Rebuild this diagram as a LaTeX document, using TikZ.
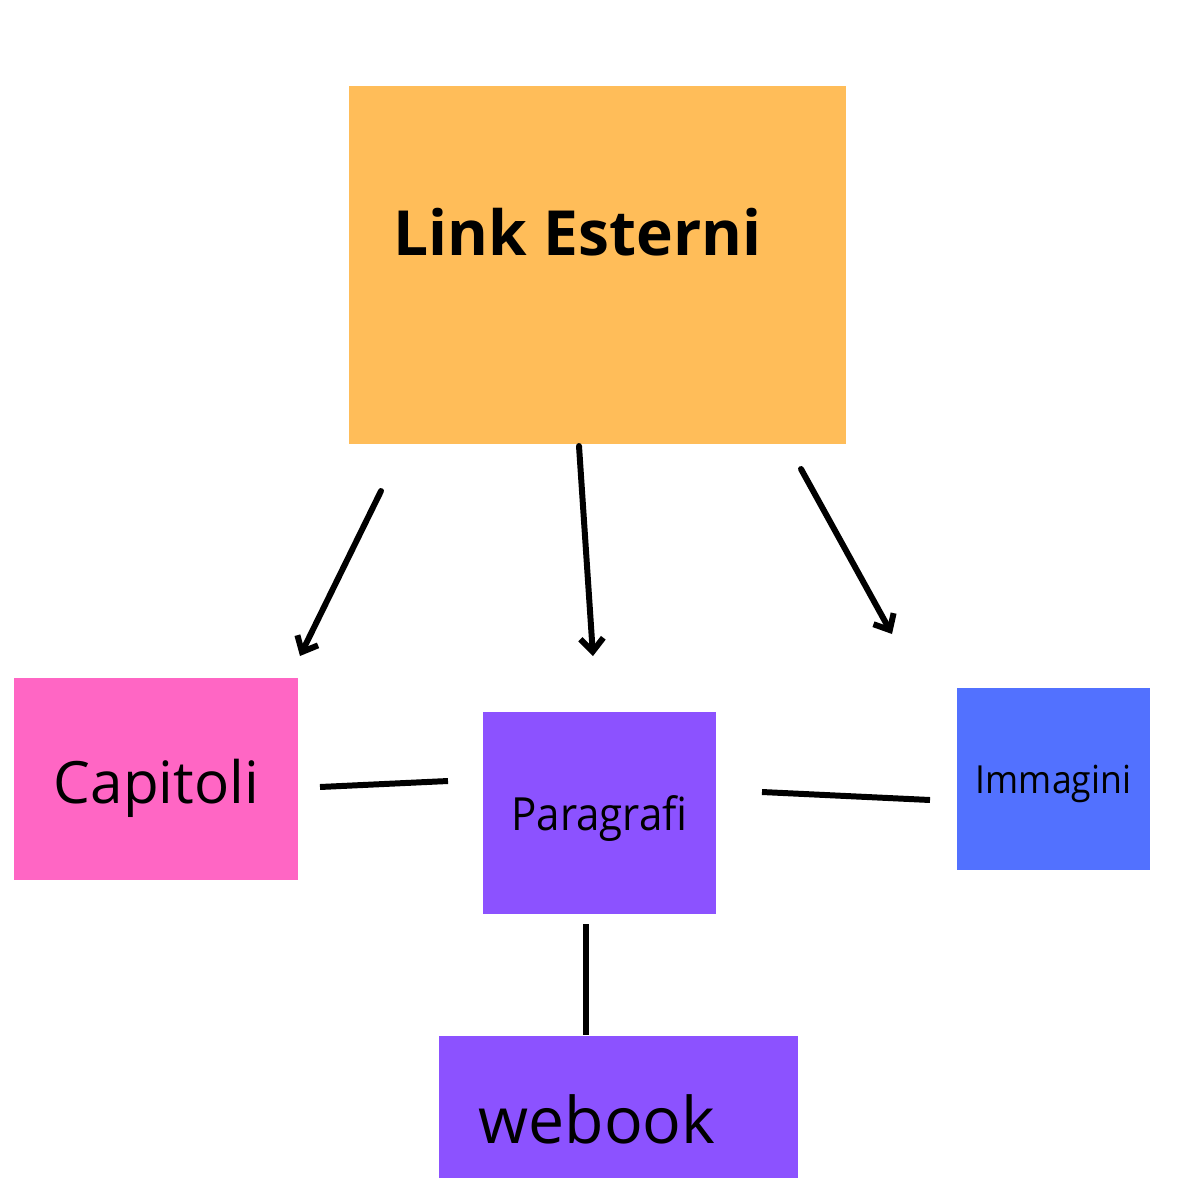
\documentclass[tikz,border=0pt]{standalone}
\usepackage{fontspec}
\setmainfont{Open Sans}
\newfontfamily\narrowfont[FakeStretch=0.92]{Open Sans}
\usetikzlibrary{arrows.meta}
\definecolor{linkorange}{HTML}{FFBD59}
\definecolor{capipink}{HTML}{FF66C4}
\definecolor{parapurple}{HTML}{8C52FF}
\definecolor{imgblue}{HTML}{5271FF}
\tikzset{
	box/.style={draw=none, inner sep=0pt, rectangle},
	label/.style={anchor=base, inner sep=0pt},
	link/.style={line width=1.7pt, line cap=round},
	pointer/.style={link, -{Straight Barb[length=1.3mm, width=2.3mm, line width=1.7pt]}}
}

\begin{document}
\begin{tikzpicture}[x=0.01cm, y=-0.01cm]
			%%%%% START %%%%%
			\useasboundingbox (0, 0) rectangle (1200, 1200);
			
			\node[box, fill=linkorange, minimum width=4.97cm, minimum height=3.58cm] (esterni) at (597.5, 265) {};
			\node[label, font=\bfseries\fontsize{17.7}{20}\selectfont] (esternitxt) at (577.5, 255) {Link Esterni};
			
			\node[box, fill=capipink, minimum width=2.84cm, minimum height=2.02cm] (capitoli) at (156, 779) {};
			\node[label, font=\fontsize{16.6}{19}\selectfont] (capitolitxt) at (156.5, 803) {Capitoli};
			
			\node[box, fill=parapurple, minimum width=2.33cm, minimum height=2.02cm] (paragrafi) at (599.5, 813) {};
			\node[label, font=\narrowfont\fontsize{13}{15}\selectfont] (paragrafitxt) at (599.5, 830) {Paragrafi};
			
			\node[box, fill=imgblue, minimum width=1.93cm, minimum height=1.82cm] (immagini) at (1053.5, 779) {};
			\node[label, font=\narrowfont\fontsize{11}{12}\selectfont] (immaginitxt) at (1053.5, 793) {Immagini};
			
			\node[box, fill=parapurple, minimum width=3.59cm, minimum height=1.42cm] (webook) at (618.5, 1107) {};
			\node[label, font=\fontsize{18.3}{20}\selectfont] (webooktxt) at (597, 1143) {webook};
			
			% free ends of the connectors
			\coordinate (a1) at (381, 491);  \coordinate (a2) at (300, 656);
			\coordinate (b1) at (579, 446);  \coordinate (b2) at (593, 656);
			\coordinate (c1) at (801, 469);  \coordinate (c2) at (892, 634);
			\coordinate (d1) at (320, 787);  \coordinate (d2) at (448, 781);
			\coordinate (e1) at (762, 792);  \coordinate (e2) at (930, 800);
			\coordinate (f1) at (586, 924);  \coordinate (f2) at (586, 1035);
			
			\draw[pointer] (a1) -- (a2);
			\draw[pointer] (b1) -- (b2);
			\draw[pointer] (c1) -- (c2);
			
			\draw[link, line cap=butt] (d1) -- (d2);
			\draw[link, line cap=butt] (e1) -- (e2);
			\draw[link, line cap=butt] (f1) -- (f2);
			%%%%% END %%%%%
		\end{tikzpicture}
\end{document}
